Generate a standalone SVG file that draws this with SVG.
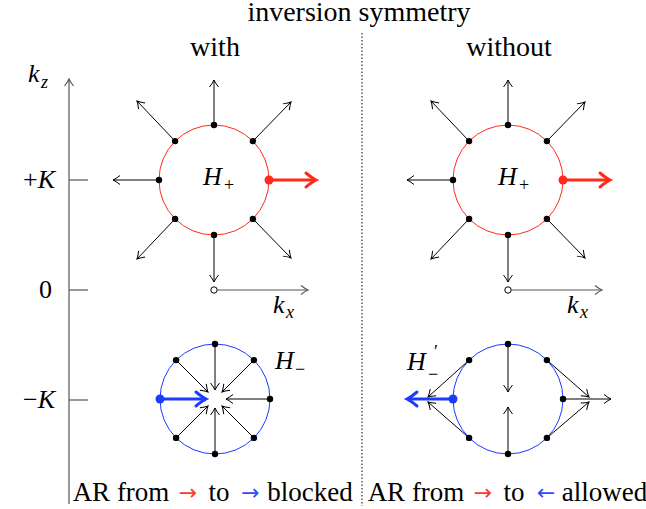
<svg xmlns="http://www.w3.org/2000/svg" width="646" height="509" viewBox="0 0 646 509">
<defs>
<marker id="ah" markerUnits="userSpaceOnUse" viewBox="-10 -10 20 20" markerWidth="20" markerHeight="20" refX="0" refY="0" orient="auto">
<path d="M-7,-4.5 Q-2.5,-1 0,0 Q-2.5,1 -7,4.5" fill="none" stroke="#000" stroke-width="1"/>
</marker>
<marker id="ag" markerUnits="userSpaceOnUse" viewBox="-10 -10 20 20" markerWidth="20" markerHeight="20" refX="0" refY="0" orient="auto">
<path d="M-7,-4.5 Q-2.5,-1 0,0 Q-2.5,1 -7,4.5" fill="none" stroke="#555" stroke-width="1.2"/>
</marker>
<marker id="ar" markerUnits="userSpaceOnUse" viewBox="-15 -15 30 30" markerWidth="30" markerHeight="30" refX="0" refY="0" orient="auto">
<path d="M-10,-7 Q-4,-2 0,0 Q-4,2 -10,7" fill="none" stroke="#ff2a1a" stroke-width="3" stroke-linecap="round"/>
</marker>
<marker id="abl" markerUnits="userSpaceOnUse" viewBox="-15 -15 30 30" markerWidth="30" markerHeight="30" refX="0" refY="0" orient="auto">
<path d="M-10,-7 Q-4,-2 0,0 Q-4,2 -10,7" fill="none" stroke="#1a3cff" stroke-width="3" stroke-linecap="round"/>
</marker>
</defs>
<rect width="646" height="509" fill="#fff"/>

<g id="titles">
<text font-family="Liberation Serif" font-size="28" x="359" y="21" text-anchor="middle">inversion symmetry</text>
<text font-family="Liberation Serif" font-size="28" x="215" y="56" text-anchor="middle">with</text>
<text font-family="Liberation Serif" font-size="28" x="509" y="56" text-anchor="middle">without</text>
</g>

<g id="divider">
<line x1="362" y1="33" x2="362" y2="506" stroke="#000" stroke-width="1" stroke-dasharray="1.5,2"/>
</g>

<g id="kz-axis" stroke="#555" stroke-width="1.2" fill="none">
<line x1="69" y1="504" x2="69" y2="79" marker-end="url(#ag)"/>
<line x1="69" y1="180" x2="88" y2="180"/>
<line x1="69" y1="290" x2="88" y2="290"/>
<line x1="69" y1="400" x2="88" y2="400"/>
</g>
<g id="kz-labels">
<text font-family="Liberation Serif" font-size="26" font-style="italic" x="28" y="82">k<tspan font-size="18" x="41" y="88">z</tspan></text>
<text font-family="Liberation Serif" font-size="26" font-style="italic" x="55" y="188" text-anchor="end"><tspan font-style="normal">+</tspan>K</text>
<text font-family="Liberation Serif" font-size="26" x="52" y="298" text-anchor="end">0</text>
<text font-family="Liberation Serif" font-size="26" font-style="italic" x="55" y="408" text-anchor="end"><tspan font-style="normal">−</tspan>K</text>
</g>

<g id="kx-axis-with">
<line x1="217.5" y1="290" x2="308" y2="290" stroke="#555" stroke-width="1.2" marker-end="url(#ag)"/>
<circle cx="214" cy="290" r="3.2" fill="#fff" stroke="#000" stroke-width="1"/>
<text font-family="Liberation Serif" font-size="26" font-style="italic" x="273" y="313">k<tspan font-size="18" x="286" y="318">x</tspan></text>
</g>
<g id="kx-axis-without">
<line x1="511.5" y1="290" x2="602" y2="290" stroke="#555" stroke-width="1.2" marker-end="url(#ag)"/>
<circle cx="508" cy="290" r="3.2" fill="#fff" stroke="#000" stroke-width="1"/>
<text font-family="Liberation Serif" font-size="26" font-style="italic" x="567" y="313">k<tspan font-size="18" x="580" y="318">x</tspan></text>
</g>

<g id="connectors" stroke="#000" stroke-width="1" fill="none">
<line x1="214" y1="125" x2="214" y2="80" marker-end="url(#ah)"/>
<line x1="159" y1="180" x2="113" y2="180" marker-end="url(#ah)"/>
<line x1="214" y1="235" x2="214" y2="282" marker-end="url(#ah)"/>
<line x1="175.1" y1="141.1" x2="137" y2="101" marker-end="url(#ah)"/>
<line x1="252.9" y1="141.1" x2="291" y2="102" marker-end="url(#ah)"/>
<line x1="175.1" y1="218.9" x2="137" y2="259" marker-end="url(#ah)"/>
<line x1="252.9" y1="218.9" x2="291" y2="258" marker-end="url(#ah)"/>
<line x1="269" y1="180" x2="316" y2="180" stroke="#ff2a1a" stroke-width="3" marker-end="url(#ar)"/>

<line x1="508" y1="125" x2="508" y2="80" marker-end="url(#ah)"/>
<line x1="453" y1="180" x2="407" y2="180" marker-end="url(#ah)"/>
<line x1="508" y1="235" x2="508" y2="282" marker-end="url(#ah)"/>
<line x1="469.1" y1="141.1" x2="431" y2="101" marker-end="url(#ah)"/>
<line x1="546.9" y1="141.1" x2="585" y2="102" marker-end="url(#ah)"/>
<line x1="469.1" y1="218.9" x2="431" y2="259" marker-end="url(#ah)"/>
<line x1="546.9" y1="218.9" x2="585" y2="258" marker-end="url(#ah)"/>
<line x1="563" y1="180" x2="610" y2="180" stroke="#ff2a1a" stroke-width="3" marker-end="url(#ar)"/>

<line x1="215" y1="344" x2="215" y2="390" marker-end="url(#ah)"/>
<line x1="215" y1="454" x2="215" y2="408" marker-end="url(#ah)"/>
<line x1="270" y1="399" x2="226" y2="399" marker-end="url(#ah)"/>
<line x1="176.1" y1="360.1" x2="208" y2="392" marker-end="url(#ah)"/>
<line x1="253.9" y1="360.1" x2="222" y2="392" marker-end="url(#ah)"/>
<line x1="176.1" y1="437.9" x2="208" y2="406" marker-end="url(#ah)"/>
<line x1="253.9" y1="437.9" x2="222" y2="406" marker-end="url(#ah)"/>
<line x1="160" y1="399" x2="206" y2="399" stroke="#1a3cff" stroke-width="3" marker-end="url(#abl)"/>

<line x1="508" y1="344" x2="508" y2="392" marker-end="url(#ah)"/>
<line x1="508" y1="454" x2="508" y2="407" marker-end="url(#ah)"/>
<line x1="469.1" y1="360.1" x2="428" y2="397" marker-end="url(#ah)"/>
<line x1="469.1" y1="437.9" x2="428" y2="402" marker-end="url(#ah)"/>
<line x1="546.9" y1="360.1" x2="589" y2="397" marker-end="url(#ah)"/>
<line x1="546.9" y1="437.9" x2="589" y2="402" marker-end="url(#ah)"/>
<line x1="563" y1="399" x2="611" y2="399" marker-end="url(#ah)"/>
<line x1="453" y1="399" x2="407" y2="399" stroke="#1a3cff" stroke-width="3" marker-end="url(#abl)"/>
</g>

<g id="hplus-with">
<circle cx="214" cy="180" r="55" fill="none" stroke="#ff2a1a" stroke-width="1"/>
<g fill="#000">
<circle cx="214" cy="125" r="3.2"/><circle cx="159" cy="180" r="3.2"/><circle cx="214" cy="235" r="3.2"/>
<circle cx="175.1" cy="141.1" r="3.2"/><circle cx="252.9" cy="141.1" r="3.2"/>
<circle cx="175.1" cy="218.9" r="3.2"/><circle cx="252.9" cy="218.9" r="3.2"/>
</g>
<circle cx="269" cy="180" r="4.5" fill="#ff2a1a"/>
<text font-family="Liberation Serif" font-size="26" font-style="italic" x="203" y="185">H<tspan font-size="18" font-style="normal" x="224" y="191">+</tspan></text>
</g>

<g id="hplus-without">
<circle cx="508" cy="180" r="55" fill="none" stroke="#ff2a1a" stroke-width="1"/>
<g fill="#000">
<circle cx="508" cy="125" r="3.2"/><circle cx="453" cy="180" r="3.2"/><circle cx="508" cy="235" r="3.2"/>
<circle cx="469.1" cy="141.1" r="3.2"/><circle cx="546.9" cy="141.1" r="3.2"/>
<circle cx="469.1" cy="218.9" r="3.2"/><circle cx="546.9" cy="218.9" r="3.2"/>
</g>
<circle cx="563" cy="180" r="4.5" fill="#ff2a1a"/>
<text font-family="Liberation Serif" font-size="26" font-style="italic" x="498" y="185">H<tspan font-size="18" font-style="normal" x="519" y="191">+</tspan></text>
</g>

<g id="hminus-with">
<circle cx="215" cy="399" r="55" fill="none" stroke="#1a3cff" stroke-width="1"/>
<g fill="#000">
<circle cx="215" cy="344" r="3.2"/><circle cx="215" cy="454" r="3.2"/><circle cx="270" cy="399" r="3.2"/>
<circle cx="176.1" cy="360.1" r="3.2"/><circle cx="253.9" cy="360.1" r="3.2"/>
<circle cx="176.1" cy="437.9" r="3.2"/><circle cx="253.9" cy="437.9" r="3.2"/>
</g>
<circle cx="160" cy="399" r="4.5" fill="#1a3cff"/>
<text font-family="Liberation Serif" font-size="26" font-style="italic" x="275" y="369">H<tspan font-size="18" font-style="normal" x="295" y="375">−</tspan></text>
</g>

<g id="hminus-without">
<circle cx="508" cy="399" r="55" fill="none" stroke="#1a3cff" stroke-width="1"/>
<g fill="#000">
<circle cx="508" cy="344" r="3.2"/><circle cx="508" cy="454" r="3.2"/><circle cx="563" cy="399" r="3.2"/>
<circle cx="469.1" cy="360.1" r="3.2"/><circle cx="546.9" cy="360.1" r="3.2"/>
<circle cx="469.1" cy="437.9" r="3.2"/><circle cx="546.9" cy="437.9" r="3.2"/>
</g>
<circle cx="453" cy="399" r="4.5" fill="#1a3cff"/>
<text font-family="Liberation Serif" font-size="26" font-style="italic" x="407" y="370">H</text>
<text font-family="Liberation Serif" font-size="18" x="434" y="358">′</text>
<text font-family="Liberation Serif" font-size="18" x="428" y="380">−</text>
</g>

<g id="captions">
<text font-family="Liberation Serif" font-size="27" x="121" y="501" text-anchor="middle">AR from</text>
<text font-family="DejaVu Sans" font-size="22" fill="#ff3a2a" x="188" y="500" text-anchor="middle">→</text>
<text font-family="Liberation Serif" font-size="27" x="219" y="501" text-anchor="middle">to</text>
<text font-family="DejaVu Sans" font-size="22" fill="#2a4cff" x="250.5" y="500" text-anchor="middle">→</text>
<text font-family="Liberation Serif" font-size="27" x="310" y="501" text-anchor="middle">blocked</text>
<text font-family="Liberation Serif" font-size="27" x="416" y="501" text-anchor="middle">AR from</text>
<text font-family="DejaVu Sans" font-size="22" fill="#ff3a2a" x="483" y="500" text-anchor="middle">→</text>
<text font-family="Liberation Serif" font-size="27" x="514" y="501" text-anchor="middle">to</text>
<text font-family="DejaVu Sans" font-size="22" fill="#2a4cff" x="546" y="500" text-anchor="middle">←</text>
<text font-family="Liberation Serif" font-size="27" x="604.5" y="501" text-anchor="middle">allowed</text>
</g>
</svg>
